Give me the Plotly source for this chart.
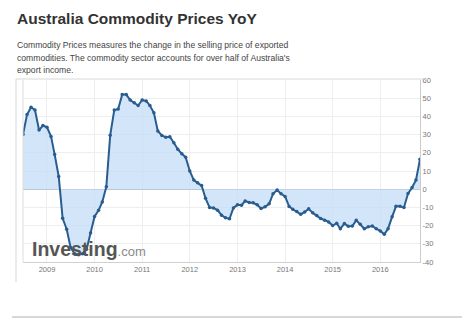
import pandas as pd
import plotly.graph_objects as go

# ---- data ----
start_month = "2008-07-01"
yoy_values = [
    30, 41, 45, 43.5, 32.5, 35, 34, 29, 19, 7,
    -16, -22, -32, -35.5, -36, -35.5, -33, -24, -15, -11.6,
    -7, 1.3, 29.7, 43.5, 44, 52, 52, 49, 47.5, 46,
    49, 48.5, 46, 42, 32, 29.5, 28.5, 28.8, 25.5, 22,
    19.5, 17.5, 10, 5, 3.5, 2, -5, -10, -10.3, -11.5,
    -14.3, -15.7, -16.3, -10.3, -8.6, -8.8, -6.5, -7.3, -7.5, -8.6,
    -10.6, -9.7, -8, -2.5, -0.5, -2.5, -4, -9.5, -11, -12.3,
    -13.8, -12.5, -10.8, -13, -14.5, -16.1, -17, -18, -20, -18.7,
    -21.7, -18.9, -20.4, -20.2, -17.1, -19.3, -21.7, -20.7, -20.2, -21.7,
    -22.9, -24.8, -21.7, -15.2, -9.4, -9.4, -10.1, -2.4, 0.9, 5,
    16.5,
]
months = pd.date_range(start_month, periods=len(yoy_values), freq="MS")
y_ticks = [-40, -30, -20, -10, 0, 10, 20, 30, 40, 50, 60]

title_text = "Australia Commodity Prices YoY"
desc_lines = [
    "Commodity Prices measures the change in the selling price of exported",
    "commodities. The commodity sector accounts for over half of Australia's",
    "export income.",
]

FONT = "Liberation Sans, Arial, sans-serif"

fig = go.Figure()
fig.add_trace(go.Scatter(
    x=months, y=yoy_values, mode="lines+markers",
    line=dict(color="#2a5d8f", width=2),
    marker=dict(color="#2a5d8f", size=3.5),
    fill="tozeroy", fillcolor="rgba(196,222,247,0.75)",
    hoverinfo="skip", showlegend=False,
))

W, H = 476, 322
L, R, T, B = 23, 420, 80, 262
pw, ph = R - L, B - T

def px(x):
    return (x - L) / pw

def py(y):
    return (B - y) / ph

annotations = [
    dict(text="<b>" + title_text + "</b>", x=px(15), y=py(18), xref="paper", yref="paper",
         xanchor="left", yanchor="middle", showarrow=False,
         font=dict(family=FONT, size=15.5, color="#333333")),
]
for i, line in enumerate(desc_lines):
    annotations.append(dict(text=line, x=px(15), y=py(45 + 12.5 * i), xref="paper", yref="paper",
                            xanchor="left", yanchor="middle", showarrow=False,
                            font=dict(family=FONT, size=8.6, color="#444444")))
annotations.append(dict(
    text="<b>Investing</b><span style='font-size:13px;color:#8a8a8a'>.com</span>",
    x=px(30), y=py(248.5), xref="paper", yref="paper", xanchor="left", yanchor="middle",
    showarrow=False, font=dict(family=FONT, size=19.5, color="#555555")))

shapes = [
    # outer frame
    dict(type="line", xref="paper", yref="paper", x0=px(16), x1=px(428), y0=py(79), y1=py(79),
         line=dict(color="#d8d8d8", width=1)),
    dict(type="line", xref="paper", yref="paper", x0=px(16), x1=px(16), y0=py(79), y1=py(282),
         line=dict(color="#d8d8d8", width=1)),
    # separator at bottom
    dict(type="line", xref="paper", yref="paper", x0=px(12), x1=px(462), y0=py(317), y1=py(317),
         line=dict(color="#b0b0b0", width=1)),
    # plot left border
    dict(type="line", xref="paper", yref="paper", x0=0, x1=0, y0=0, y1=1,
         line=dict(color="#dddddd", width=1)),
]

fig.update_layout(
    width=W, height=H,
    margin=dict(l=L, r=W - R, t=T, b=H - B),
    paper_bgcolor="white", plot_bgcolor="white",
    annotations=annotations, shapes=shapes,
    xaxis=dict(
        type="date", range=[months[0], months[-1]],
        tickmode="linear", tick0="2009-01-01", dtick="M12", tickformat="%Y",
        showgrid=True, gridcolor="#eeeeee", gridwidth=1,
        showline=True, linecolor="#d0d0d0", linewidth=1,
        ticks="", tickfont=dict(family=FONT, size=7.5, color="#777777"),
        zeroline=False, fixedrange=True,
    ),
    yaxis=dict(
        side="right", range=[-40, 60], tickmode="array", tickvals=y_ticks,
        ticktext=[str(v) for v in y_ticks],
        showgrid=True, gridcolor="#eeeeee", gridwidth=1,
        showline=True, linecolor="#cccccc", linewidth=1,
        ticks="", tickfont=dict(family=FONT, size=7.5, color="#777777"),
        zeroline=True, zerolinecolor="#b9c3cf", zerolinewidth=1,
        fixedrange=True,
    ),
)

fig.write_html("out.html")
